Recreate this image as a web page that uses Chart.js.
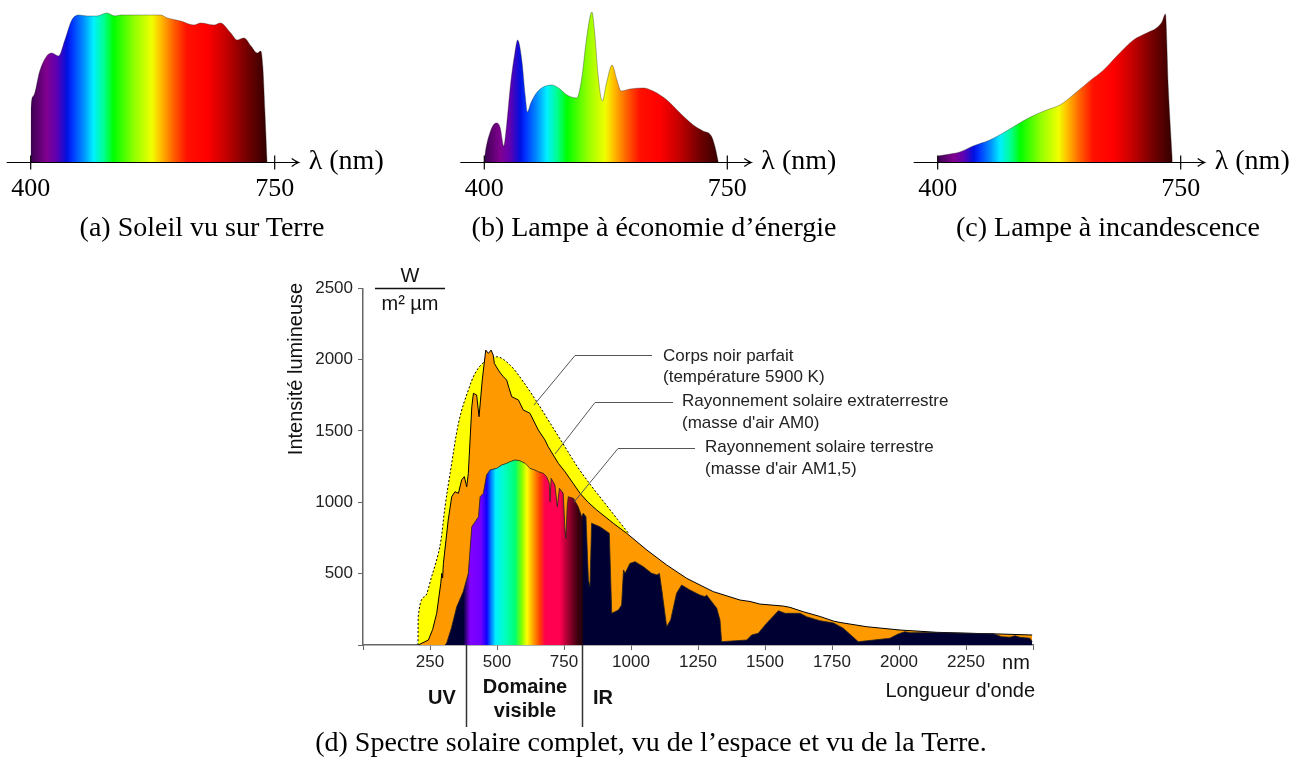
<!DOCTYPE html>
<html>
<head>
<meta charset="utf-8">
<script src="https://cdn.jsdelivr.net/npm/chart.js@4"></script>
<style>
body { margin: 0; background: #fff; width: 1302px; height: 763px; position: relative; overflow: hidden; }
canvas { position: absolute; }
.cap { position: absolute; transform: translate(-50%, -50%); font: 28px "Liberation Serif"; white-space: nowrap; color: #000; }
</style>
</head>
<body>
<canvas id="solar" width="1302" height="763" style="left:0;top:0"></canvas>
<canvas id="sun" width="400" height="210" style="left:0;top:0"></canvas>
<canvas id="cfl" width="420" height="210" style="left:440px;top:0"></canvas>
<canvas id="inc" width="412" height="210" style="left:890px;top:0"></canvas>
<div class="cap" style="left:202px;top:227px">(a) Soleil vu sur Terre</div>
<div class="cap" style="left:654px;top:227px">(b) Lampe à économie d’énergie</div>
<div class="cap" style="left:1108px;top:227px">(c) Lampe à incandescence</div>
<div class="cap" style="left:651px;top:742px">(d) Spectre solaire complet, vu de l’espace et vu de la Terre.</div>
<script>
// (a) Soleil vu sur Terre
const sunNm  = [400, 400.5, 404, 413, 423, 430, 440, 449, 459, 469, 481, 495, 509, 521, 529, 548, 586, 596, 615, 634, 644, 663, 672, 687, 696, 706, 716, 725, 730, 733, 736, 739];
const sunVal = [0, 55, 66, 91, 106, 109, 106, 122, 142, 147, 146, 146, 149, 146, 147, 147, 147, 144, 141, 137, 139, 137, 139, 129, 122, 124, 116, 109, 111, 95, 50, 0];

// (b) Lampe a economie d'energie
const cflNm  = [400, 401, 403, 408, 413, 418, 423, 428, 432, 438, 444, 448, 454, 459, 462, 467, 475, 485, 497, 507, 519, 533, 540, 547, 555, 559, 564, 570, 576, 584, 591, 597, 610, 629, 643, 663, 682, 701, 715, 727, 732, 737];
const cflVal = [0, 7, 16, 29, 37, 39, 34, 16, 36, 79, 109, 122, 102, 66, 50, 59, 69, 75, 77, 74, 67, 64, 82, 122, 150, 129, 86, 61, 79, 97, 82, 71, 73, 74, 71, 62, 49, 37, 31, 26, 16, 0];

// (c) Lampe a incandescence
const incNm  = [400, 418, 432, 451, 475, 499, 523, 543, 557, 576, 595, 619, 639, 658, 682, 701, 715, 723, 728, 732, 738];
const incVal = [6, 8, 10, 16, 22, 31, 41, 48, 52, 57, 67, 81, 92, 106, 122, 129, 134, 140, 148, 76, 0];

// (d) corps noir 5900 K
const bbNm  = [205, 206, 231, 256, 281, 291, 306, 325, 356, 393, 418, 461, 499, 550, 600, 650, 700, 750, 800, 850, 900, 950, 990];
const bbVal = [0, 198, 339, 479, 643, 736, 969, 1203, 1553, 1787, 1904, 1997, 2020, 1960, 1840, 1700, 1550, 1400, 1250, 1120, 1000, 880, 785];

// (d) rayonnement extraterrestre AM0
const am0Nm  = [206, 244, 260, 275, 290, 294, 297, 300, 318, 331, 343, 356, 368, 378, 387, 393, 406, 412, 424, 433, 445, 458, 468, 478, 486, 490, 505, 515, 524, 536, 545, 555, 580, 598, 623, 654, 679, 691, 729, 754, 785, 810, 840, 872, 934, 984, 1059, 1133, 1208, 1307, 1407, 1444, 1481, 1568, 1593, 1643, 1705, 1755, 1780, 1880, 2004, 2140, 2265, 2377, 2497];
const am0Val = [0, 35, 110, 222, 430, 502, 470, 572, 876, 1039, 1074, 1063, 1156, 1180, 1109, 1203, 1670, 1764, 1752, 1600, 1857, 2067, 2044, 2067, 2032, 1974, 1927, 1900, 1880, 1857, 1800, 1740, 1717, 1647, 1624, 1507, 1437, 1390, 1273, 1214, 1130, 1063, 1000, 946, 853, 783, 666, 561, 467, 374, 315, 305, 287, 273, 264, 233, 200, 168, 158, 128, 105, 89, 82, 77, 70];

// (d) rayonnement terrestre AM1,5
const am15Nm  = [305, 312, 330, 350, 374, 393, 406, 431, 437, 449, 461, 474, 499, 518, 536, 549, 567, 586, 605, 623, 642, 654, 673, 685, 695, 698, 702, 716, 725, 733, 747, 753, 757, 762, 766, 785, 803, 816, 822, 832, 841, 847, 853, 884, 919, 928, 940, 953, 965, 972, 978, 996, 1015, 1046, 1077, 1098, 1106, 1115, 1133, 1148, 1170, 1189, 1220, 1257, 1276, 1282, 1301, 1320, 1332, 1338, 1432, 1450, 1475, 1506, 1550, 1575, 1631, 1655, 1705, 1755, 1792, 1848, 1966, 1997, 2022, 2041, 2140, 2203, 2352, 2383, 2414, 2433, 2451, 2489, 2497];
const am15Val = [0, 12, 120, 269, 374, 502, 829, 899, 1039, 1063, 1191, 1227, 1238, 1262, 1273, 1285, 1297, 1291, 1273, 1238, 1226, 1215, 1203, 1180, 1133, 1004, 1168, 1121, 969, 1098, 1063, 829, 748, 969, 1039, 1028, 969, 899, 923, 899, 455, 409, 853, 829, 783, 222, 233, 245, 280, 526, 502, 572, 584, 549, 502, 491, 502, 385, 128, 175, 362, 420, 385, 350, 339, 350, 304, 257, 175, 23, 35, 70, 82, 152, 240, 222, 222, 198, 170, 155, 117, 23, 47, 77, 93, 86, 87, 84, 78, 58, 54, 65, 54, 47, 23];

// limites du domaine visible (nm)
const visibleBounds = [384, 817];

const spectrumStops = [[400, '#3c0050'], [423, '#800090'], [437, '#6000b0'], [452, '#0010e0'], [459, '#0030ff'], [476, '#0090ff'], [490, '#00f0ff'], [505, '#00ff90'], [519, '#00ff00'], [548, '#90ff00'], [574, '#f0ff00'], [586, '#ffc000'], [605, '#ff6000'], [624, '#ff1000'], [653, '#ff0000'], [682, '#c00000'], [711, '#700000'], [740, '#300000']];
const navy = '#000033';
const visibleStops = [[375, navy], [388, '#4a00a0'], [400, '#8000ff'], [440, '#7000ff'], [462, '#1000ff'], [478, '#0080ff'], [495, '#00f0ff'], [530, '#00ffc0'], [568, '#00ff70'], [592, '#80ff00'], [612, '#ffff00'], [635, '#ffa000'], [660, '#ff4000'], [680, '#ff0050'], [735, '#ff0050'], [765, '#a00030'], [800, '#400010'], [821, '#200010'], [822, navy]];

const pts = (xs, ys) => xs.map((x, i) => ({ x, y: ys[i] }));

function spectrumFill(context) {
    const chart = context.chart;
    if (!chart.chartArea) return '#888';
    const x = chart.scales.x;
    const g = chart.ctx.createLinearGradient(x.getPixelForValue(400), 0, x.getPixelForValue(750), 0);
    spectrumStops.forEach(([nm, c]) => g.addColorStop(Math.min(1, Math.max(0, (nm - 400) / 350)), c));
    return g;
}

function am15Fill(context) {
    const chart = context.chart;
    if (!chart.chartArea) return navy;
    const x = chart.scales.x;
    const g = chart.ctx.createLinearGradient(x.getPixelForValue(0), 0, x.getPixelForValue(2500), 0);
    visibleStops.forEach(([nm, c]) => g.addColorStop(nm / 2500, c));
    return g;
}

// axe lambda des petits spectres
const lambdaAxis = {
    id: 'lambdaAxis',
    afterDraw(chart) {
        const { ctx, scales: { x } } = chart;
        const y0 = chart.chartArea.bottom + 0.5;
        const x400 = x.getPixelForValue(400), x750 = x.getPixelForValue(750);
        const tip = x750 + 24;
        ctx.save();
        ctx.strokeStyle = '#000';
        ctx.lineWidth = 1.2;
        ctx.beginPath();
        ctx.moveTo(x400 - 24, y0);
        ctx.lineTo(tip, y0);
        [x400, x750].forEach(px => { ctx.moveTo(px, y0 - 7); ctx.lineTo(px, y0 + 7); });
        ctx.stroke();
        ctx.beginPath();
        ctx.moveTo(tip - 7, y0 - 4);
        ctx.quadraticCurveTo(tip - 3, y0 - 1, tip, y0);
        ctx.quadraticCurveTo(tip - 3, y0 + 1, tip - 7, y0 + 4);
        ctx.stroke();
        ctx.fillStyle = '#000';
        ctx.font = '26px "Liberation Serif"';
        ctx.textAlign = 'center';
        ctx.textBaseline = 'middle';
        ctx.fillText('400', x400, y0 + 27);
        ctx.fillText('750', x750, y0 + 27);
        ctx.font = '28px "Liberation Serif"';
        ctx.textAlign = 'left';
        ctx.fillText('λ (nm)', x750 + 34, y0 - 1);
        ctx.restore();
    }
};

function lampChart(id, nm, val, padLeft, padRight) {
    return new Chart(document.getElementById(id), {
        type: 'line',
        data: {
            datasets: [{
                data: pts(nm, val),
                fill: 'origin',
                backgroundColor: spectrumFill,
                borderColor: 'rgba(40,40,40,0.6)',
                borderWidth: 0.6,
                pointRadius: 0,
                cubicInterpolationMode: 'monotone'
            }]
        },
        options: {
            responsive: false,
            animation: false,
            layout: { padding: { left: padLeft, right: padRight, top: 12, bottom: 48 } },
            plugins: { legend: { display: false }, tooltip: { enabled: false } },
            scales: {
                x: { type: 'linear', display: false, min: 400, max: 750 },
                y: { display: false, min: 0, max: 150 }
            }
        },
        plugins: [lambdaAxis]
    });
}

lampChart('sun', sunNm, sunVal, 30.7, 125.3);
lampChart('cfl', cflNm, cflVal, 44.3, 132.7);
lampChart('inc', incNm, incVal, 47.7, 121.3);

// textes, traits de rappel et unites du spectre complet
const solarNotes = {
    id: 'solarNotes',
    afterDraw(chart) {
        const { ctx, scales: { x, y } } = chart;
        const base = y.getPixelForValue(0);
        ctx.save();
        ctx.strokeStyle = '#333';
        ctx.lineWidth = 1.5;
        visibleBounds.forEach(nm => {
            const px = Math.round(x.getPixelForValue(nm)) + 0.5;
            ctx.beginPath();
            ctx.moveTo(px, base);
            ctx.lineTo(px, base + 82);
            ctx.stroke();
        });

        ctx.fillStyle = '#111';
        ctx.textAlign = 'center';
        ctx.textBaseline = 'middle';
        ctx.font = 'bold 20px "Liberation Sans"';
        ctx.fillText('UV', 442, 698);
        ctx.fillText('Domaine', 525, 687);
        ctx.fillText('visible', 525, 711);
        ctx.fillText('IR', 603, 698);

        ctx.font = '20px "Liberation Sans"';
        ctx.fillText('nm', 1016, 663);
        ctx.textAlign = 'right';
        ctx.fillText("Longueur d'onde", 1035, 691);

        ctx.save();
        ctx.translate(296, 369);
        ctx.rotate(-Math.PI / 2);
        ctx.textAlign = 'center';
        ctx.fillText('Intensité lumineuse', 0, 0);
        ctx.restore();

        ctx.textAlign = 'center';
        ctx.fillText('W', 410, 276);
        ctx.fillText('m² µm', 410, 304);
        ctx.strokeStyle = '#111';
        ctx.lineWidth = 1.5;
        ctx.beginPath();
        ctx.moveTo(375, 288.5);
        ctx.lineTo(445, 288.5);
        ctx.stroke();

        // traits de rappel
        ctx.strokeStyle = '#555';
        ctx.lineWidth = 1;
        [
            [[652, 355.5], [575, 355.5], [534, 405]],
            [[673, 402.5], [595, 402.5], [555, 454]],
            [[695, 448.5], [618, 448.5], [574, 502]]
        ].forEach(line => {
            ctx.beginPath();
            line.forEach(([px, py], i) => i ? ctx.lineTo(px, py) : ctx.moveTo(px, py));
            ctx.stroke();
        });

        ctx.fillStyle = '#222';
        ctx.font = '17px "Liberation Sans"';
        ctx.textAlign = 'left';
        ctx.fillText('Corps noir parfait', 663, 356);
        ctx.fillText('(température 5900 K)', 663, 377);
        ctx.fillText('Rayonnement solaire extraterrestre', 682, 401);
        ctx.fillText("(masse d'air AM0)", 682, 423);
        ctx.fillText('Rayonnement solaire terrestre', 705, 447);
        ctx.fillText("(masse d'air AM1,5)", 705, 469);
        ctx.restore();
    }
};

const tickFont = { family: 'Liberation Sans', size: 17 };

new Chart(document.getElementById('solar'), {
    type: 'line',
    data: {
        datasets: [
            {
                label: 'Rayonnement solaire terrestre',
                data: pts(am15Nm, am15Val),
                fill: 'origin',
                backgroundColor: am15Fill,
                borderColor: '#222',
                borderWidth: 0.8,
                pointRadius: 0
            },
            {
                label: 'Rayonnement solaire extraterrestre',
                data: pts(am0Nm, am0Val),
                fill: 'origin',
                backgroundColor: '#ff9900',
                borderColor: '#000',
                borderWidth: 1,
                pointRadius: 0
            },
            {
                label: 'Corps noir parfait',
                data: pts(bbNm, bbVal),
                fill: 'origin',
                backgroundColor: '#ffff00',
                borderColor: '#000',
                borderWidth: 1,
                borderDash: [2, 2],
                pointRadius: 0,
                cubicInterpolationMode: 'monotone'
            }
        ]
    },
    options: {
        responsive: false,
        animation: false,
        layout: { padding: { left: 283, right: 269, top: 288.3, bottom: 88 } },
        plugins: { legend: { display: false }, tooltip: { enabled: false } },
        scales: {
            x: {
                type: 'linear',
                min: 0,
                max: 2500,
                afterFit(scale) { scale.height = 30; },
                ticks: {
                    stepSize: 250,
                    autoSkip: false,
                    maxRotation: 0,
                    padding: 2,
                    color: '#222',
                    font: tickFont,
                    callback: v => (v === 0 || v === 2500) ? '' : v
                },
                grid: { drawOnChartArea: false, tickLength: 5, color: '#666' },
                border: { color: '#666', width: 1.5 }
            },
            y: {
                min: 0,
                max: 2500,
                afterFit(scale) { scale.width = 80; },
                ticks: {
                    stepSize: 500,
                    padding: 5,
                    color: '#222',
                    font: tickFont,
                    callback: v => v === 0 ? '' : v
                },
                grid: { drawOnChartArea: false, tickLength: 5, color: '#666' },
                border: { color: '#666', width: 1.5 }
            }
        }
    },
    plugins: [solarNotes]
});
</script>
</body>
</html>
